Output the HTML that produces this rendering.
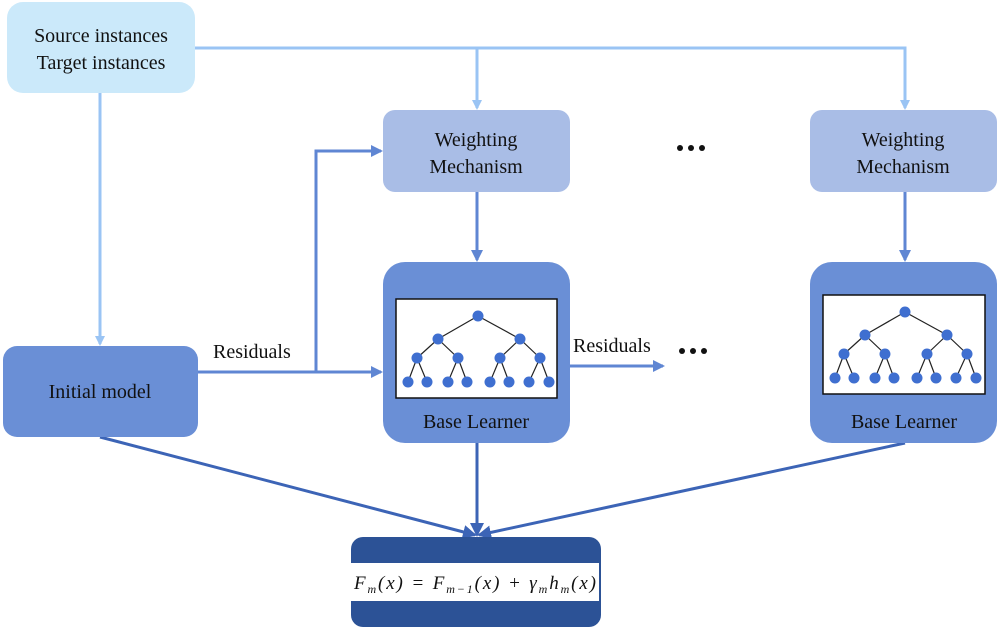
<!DOCTYPE html>
<html><head><meta charset="utf-8"><style>
body{margin:0;background:#fff}
text{font-family:"Liberation Serif",serif;fill:#111}
</style></head><body>
<svg width="1000" height="630" viewBox="0 0 1000 630" xmlns="http://www.w3.org/2000/svg">
<defs>
<marker id="al" markerWidth="10" markerHeight="10" refX="8" refY="5" orient="auto" markerUnits="userSpaceOnUse"><path d="M0,0 L10,5 L0,10 z" fill="#9ac4f4"/></marker>
<marker id="am" markerWidth="12" markerHeight="12" refX="10" refY="6" orient="auto" markerUnits="userSpaceOnUse"><path d="M0,0 L12,6 L0,12 z" fill="#5f86d3"/></marker>
<marker id="ad" markerWidth="14" markerHeight="14" refX="12" refY="7" orient="auto" markerUnits="userSpaceOnUse"><path d="M0,0 L14,7 L0,14 z" fill="#3c64b6"/></marker>
<g id="tree">
<g stroke="#222" stroke-width="1.2">
<line x1="81" y1="16" x2="41" y2="39"/><line x1="81" y1="16" x2="123" y2="39"/>
<line x1="41" y1="39" x2="20" y2="58"/><line x1="41" y1="39" x2="61" y2="58"/>
<line x1="123" y1="39" x2="103" y2="58"/><line x1="123" y1="39" x2="143" y2="58"/>
<line x1="20" y1="58" x2="11" y2="82"/><line x1="20" y1="58" x2="30" y2="82"/>
<line x1="61" y1="58" x2="51" y2="82"/><line x1="61" y1="58" x2="70" y2="82"/>
<line x1="103" y1="58" x2="93" y2="82"/><line x1="103" y1="58" x2="112" y2="82"/>
<line x1="143" y1="58" x2="132" y2="82"/><line x1="143" y1="58" x2="152" y2="82"/>
</g>
<g fill="#3f6fd0">
<circle cx="81" cy="16" r="5.5"/><circle cx="41" cy="39" r="5.5"/><circle cx="123" cy="39" r="5.5"/>
<circle cx="20" cy="58" r="5.5"/><circle cx="61" cy="58" r="5.5"/><circle cx="103" cy="58" r="5.5"/><circle cx="143" cy="58" r="5.5"/>
<circle cx="11" cy="82" r="5.5"/><circle cx="30" cy="82" r="5.5"/><circle cx="51" cy="82" r="5.5"/><circle cx="70" cy="82" r="5.5"/>
<circle cx="93" cy="82" r="5.5"/><circle cx="112" cy="82" r="5.5"/><circle cx="132" cy="82" r="5.5"/><circle cx="152" cy="82" r="5.5"/>
</g>
</g>
</defs>
<g stroke="#9ac4f4" stroke-width="3" fill="none">
<polyline points="195,48 905,48 905,108" marker-end="url(#al)"/>
<line x1="477" y1="48" x2="477" y2="108" marker-end="url(#al)"/>
<line x1="100" y1="93" x2="100" y2="344" marker-end="url(#al)"/>
</g>
<g stroke="#5f86d3" stroke-width="3" fill="none">
<line x1="198" y1="372" x2="381" y2="372" marker-end="url(#am)"/>
<polyline points="316,372 316,151 381,151" marker-end="url(#am)"/>
<line x1="477" y1="192" x2="477" y2="260" marker-end="url(#am)"/>
<line x1="905" y1="192" x2="905" y2="260" marker-end="url(#am)"/>
<line x1="570" y1="366" x2="663" y2="366" marker-end="url(#am)"/>
</g>
<g stroke="#3c64b6" stroke-width="3" fill="none">
<line x1="100" y1="437" x2="475" y2="535" marker-end="url(#ad)"/>
<line x1="477" y1="443" x2="477" y2="535" marker-end="url(#ad)"/>
<line x1="905" y1="443" x2="479" y2="535" marker-end="url(#ad)"/>
</g>
<rect x="7" y="2" width="188" height="91" rx="16" fill="#cbe9fa"/>
<text x="101" y="42" font-size="20" text-anchor="middle">Source instances</text>
<text x="101" y="69" font-size="20" text-anchor="middle">Target instances</text>
<rect x="383" y="110" width="187" height="82" rx="12" fill="#a9bde6"/>
<text x="476" y="146" font-size="20" text-anchor="middle">Weighting</text>
<text x="476" y="173" font-size="20" text-anchor="middle">Mechanism</text>
<rect x="810" y="110" width="187" height="82" rx="12" fill="#a9bde6"/>
<text x="903" y="146" font-size="20" text-anchor="middle">Weighting</text>
<text x="903" y="173" font-size="20" text-anchor="middle">Mechanism</text>
<rect x="3" y="346" width="195" height="91" rx="14" fill="#6a8fd6"/>
<text x="100" y="398" font-size="20" text-anchor="middle">Initial model</text>
<rect x="383" y="262" width="187" height="181" rx="22" fill="#6a8fd6"/>
<rect x="396" y="299" width="161" height="99" fill="#fff" stroke="#111" stroke-width="1.5"/>
<use href="#tree" x="397" y="300"/>
<text x="476" y="428" font-size="20" text-anchor="middle">Base Learner</text>
<rect x="810" y="262" width="187" height="181" rx="22" fill="#6a8fd6"/>
<rect x="823" y="295" width="162" height="99" fill="#fff" stroke="#111" stroke-width="1.5"/>
<use href="#tree" x="824" y="296"/>
<text x="904" y="428" font-size="20" text-anchor="middle">Base Learner</text>
<rect x="351" y="537" width="250" height="90" rx="12" fill="#2c5296"/>
<rect x="351" y="563" width="248" height="38" fill="#fff"/>
<text x="354" y="589" font-size="19" font-style="italic" textLength="242" lengthAdjust="spacing">F<tspan font-size="12" dy="4">m</tspan><tspan dy="-4">(x) = F</tspan><tspan font-size="12" dy="4">m−1</tspan><tspan dy="-4">(x) + γ</tspan><tspan font-size="12" dy="4">m</tspan><tspan dy="-4">h</tspan><tspan font-size="12" dy="4">m</tspan><tspan dy="-4">(x)</tspan></text>
<g fill="#111">
<circle cx="680" cy="148" r="3"/><circle cx="691" cy="148" r="3"/><circle cx="702" cy="148" r="3"/>
<circle cx="682" cy="351" r="3"/><circle cx="693" cy="351" r="3"/><circle cx="704" cy="351" r="3"/>
</g>
<text x="213" y="358" font-size="20">Residuals</text>
<text x="573" y="352" font-size="20">Residuals</text>
</svg>
</body></html>
